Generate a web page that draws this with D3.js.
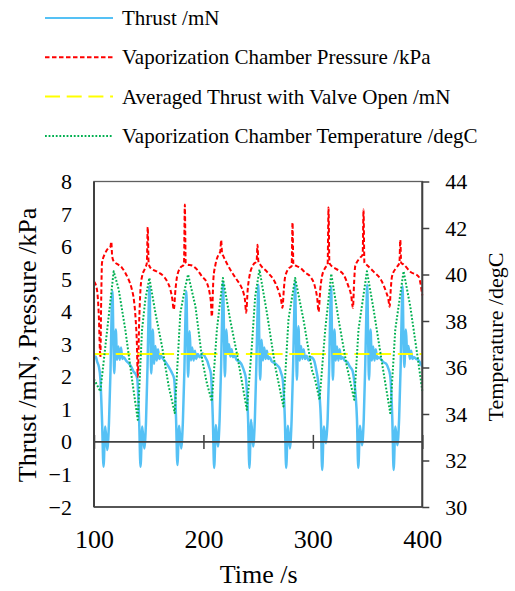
<!DOCTYPE html>
<html lang="en">
<head>
  <meta charset="UTF-8">
  <title>Thrust, Pressure and Temperature vs Time</title>
  <script src="https://d3js.org/d3.v7.min.js"></script>
  <style>
    body { margin: 0; background: #fff; }
    svg text { font-family: 'Liberation Serif'; }
    .axis .domain { display: none; }
    .axis line { stroke: #404040; stroke-width: 1.5; }
  </style>
</head>
<body>

<script>

// time /s, thrust /mN
const thrust = [
  [100,2.55],[101.5,2.62],[103,2.45],[104.5,2.3],[105.8,1.95],[107.4,0.6],
  [108.7,-0.76],[110.3,0.47],[112.1,-0.25],[113.7,0.6],[115.1,2.2],[116.1,3.96],[116.9,4.63],[117.7,3.2],[118.5,2.11],
  [119.9,3.45],[121.1,2.52],[122.3,2.93],[123.5,2.52],[124.7,2.9],[125.9,2.55],[127.3,2.6],[129.2,2.5],[131.7,2.42],
  [134.2,2.3],[136.2,2.16],[137.7,2.1],[139.5,1.95],[141.3,0.6],
  [142.5,-0.76],[144.1,0.47],[145.9,-0.2],[147.5,0.6],[148.9,2.3],[149.9,4.0],[150.7,4.78],[151.5,3.3],[152.3,2.1],
  [153.7,3.45],[154.9,2.4],[156.1,2.95],[157.3,2.5],[158.5,2.85],[159.7,2.55],[161.1,2.65],[163,2.55],[165.5,2.45],
  [168,2.32],[170,2.2],[171.5,2.1],[173.2,1.95],[175,0.7],
  [176.2,-0.71],[177.8,0.5],[179.6,-0.2],[181.2,0.6],[182.6,2.2],[183.6,3.9],[184.4,4.63],[185.2,3.2],[186,2.0],
  [187.4,3.4],[188.6,2.5],[189.8,2.9],[191,2.5],[192.2,2.8],[193.4,2.55],[194.8,2.7],[196.7,2.6],[199.2,2.72],
  [201.7,2.6],[203.7,2.47],[205.2,2.3],[206.8,2.1],[208.6,0.7],
  [209.8,-0.8],[211.4,0.52],[213.2,-0.14],[214.8,0.7],[216.2,2.4],[217.2,4.1],[218,4.9],[218.8,3.3],[219.6,2.01],
  [221,3.45],[222.2,2.72],[223.4,3.0],[224.6,2.62],[225.8,2.85],[227,2.6],[228.4,2.65],[230.3,2.52],[232.8,2.47],
  [235.3,2.35],[237.3,2.16],[238.8,1.95],[240.8,0.7],
  [242,-0.8],[243.6,0.68],[245.4,-0.14],[247,0.7],[248.4,2.4],[249.4,3.9],[250.2,4.83],[251,3.2],[251.8,1.91],
  [253.2,3.14],[254.4,2.5],[255.6,2.9],[256.8,2.55],[258,2.8],[259.2,2.55],[260.6,2.6],[262.5,2.47],[265,2.42],
  [267.5,2.35],[269.5,2.27],[271,2.11],[272.3,1.95],[274.4,0.7],
  [275.6,-0.8],[277.2,0.5],[279,-0.2],[280.6,0.7],[282,2.4],[283,4.0],[283.8,4.9],[284.6,3.2],[285.4,1.91],
  [286.8,3.55],[288,2.5],[289.2,2.95],[290.4,2.55],[291.6,2.85],[292.8,2.55],[294.2,2.65],[296.1,2.5],[298.6,2.6],
  [301.1,2.5],[303.1,2.21],[304.6,1.91],[307.3,0.7],
  [308.5,-0.86],[310.1,0.47],[311.9,-0.04],[313.5,0.7],[314.9,2.3],[315.9,4.0],[316.7,4.78],[317.5,3.2],[318.3,1.91],
  [319.7,3.45],[320.9,2.5],[322.1,2.93],[323.3,2.5],[324.5,2.85],[325.7,2.55],[327.1,2.6],[329,2.5],[331.5,2.45],
  [334,2.3],[336,2.21],[337.5,1.95],[340.3,0.7],
  [341.5,-0.8],[343.1,0.5],[344.9,-0.1],[346.5,0.7],[347.9,2.4],[348.9,4.0],[349.7,4.83],[350.5,3.2],[351.3,1.91],
  [352.7,3.45],[353.9,2.5],[355.1,2.93],[356.3,2.5],[357.5,2.85],[358.7,2.55],[360.1,2.6],[362,2.55],[364.5,2.45],
  [367,2.4],[369,2.25],[370.6,2.05],[372.6,0.7],
  [373.8,-0.86],[375.4,0.47],[377.2,-0.1],[378.8,0.7],[380.2,2.3],[381.2,4.0],[382,4.78],[382.8,3.2],[383.6,2.3],
  [385,3.45],[386.2,2.72],[387.4,2.95],[388.6,2.55],[389.8,2.8],[391,2.55],[392.4,2.6],[394.3,2.55],[396.8,2.5],
  [398.5,2.4],[400,2.3]
];

// time /s, vaporization chamber pressure /kPa
const pressure = [
  [100,4.93],[102.7,4.68],[104.3,3.96],[105.8,2.6],[106.6,4.4],[107.3,5.5],[110.3,5.8],[113,5.95],[115,6.0],
  [115.8,6.15],[116.6,5.7],[118,5.55],[122,5.45],[125.6,5.35],[128.8,5.18],[131.7,4.98],[134.5,4.7],[136.5,4.35],
  [138,3.8],[139.2,3.0],[140,2.0],[141.2,3.6],[142.5,4.7],[143.9,5.08],[146.9,5.35],[148.3,5.5],[149.1,6.6],
  [149.9,5.5],[151.5,5.35],[157.6,5.23],[163.8,5.08],[167,4.92],[169.8,4.68],[171.5,4.4],[172.9,4.06],[174.5,4.7],
  [175.9,5.08],[178.9,5.35],[182.2,5.45],[183,7.29],[183.8,5.5],[185.1,5.45],[189.6,5.42],[194,5.3],[198.8,5.08],
  [203.1,4.89],[205.5,4.6],[206.8,4.3],[207.7,3.85],[209.1,5.0],[211,5.45],[213.7,5.75],[215.4,5.85],[216.2,6.2],
  [217,5.8],[218.3,5.7],[224.4,5.3],[230.5,4.98],[234,4.8],[236.6,4.58],[238,4.35],[239,3.97],[240.5,4.7],
  [242,5.08],[245.7,5.45],[248.6,5.55],[249.4,6.06],[250.2,5.55],[251.8,5.45],[258,5.23],[265.6,4.89],[269,4.6],
  [271,4.35],[272.2,4.12],[273.5,4.7],[274.7,5.08],[278.6,5.35],[280.6,5.4],[281.4,6.74],[282.2,5.45],[283.8,5.42],
  [288.4,5.35],[293,5.2],[297.6,5.08],[302.1,4.74],[304,4.4],[305.2,4.0],[306.8,4.7],[308.3,5.08],[311.3,5.35],
  [313.5,5.45],[314.3,7.2],[315.1,5.5],[315.9,5.45],[322,5.3],[328,5.14],[332.6,4.77],[335,4.5],[336.6,4.12],
  [337.7,4.9],[338.7,5.4],[343.3,5.66],[345.5,5.75],[346.3,7.14],[347.1,5.5],[348.8,5.45],[355.5,5.23],[363.2,4.92],
  [367,4.6],[369,4.38],[370.1,4.15],[371.2,4.7],[372.3,5.08],[376.2,5.35],[379.1,5.5],[379.9,6.2],[380.7,5.5],
  [382.9,5.45],[389,5.23],[396.6,5.08],[400,4.5]
];

// averaged thrust with valve open /mN
const avgThrust = [[100,2.7],[400,2.7]];

// time /s, vaporization chamber temperature /degC
const temperature = [
  [100,35.5],[105.8,34.97],[118,40.14],[122.6,39.35],[128.6,37.63],[134.8,35.47],[140,33.75],[143.9,37.63],
  [146.9,38.92],[150.6,39.85],[156.1,38.35],[162.2,36.9],[168.3,35.18],[173.8,34.04],[178.9,38.35],[183.5,39.49],
  [186,40.0],[192.7,38.63],[199,36.3],[203.1,35.33],[207.7,34.54],[212.3,37.63],[217.8,39.85],[224.4,38.06],
  [230.5,36.62],[239.7,34.18],[244.2,36.9],[247.3,39.06],[251.2,40.21],[258,38.35],[265.6,36.04],[273.1,34.32],
  [277.7,38.06],[283.8,39.85],[291.4,38.06],[299.1,35.9],[302.1,35.47],[306.1,34.61],[311.3,37.63],[316.8,40.03],
  [323.5,38.06],[331.1,36.04],[337.8,34.61],[341.7,37.63],[349.4,40.14],[355.5,38.49],[363.2,36.19],[370.7,34.04],
  [375.3,37.63],[382.9,40.14],[389,38.63],[395.2,36.62],[400,35.0]
];

const xTicks = [100, 200, 300, 400];
const yTicks = [-2, -1, 0, 1, 2, 3, 4, 5, 6, 7, 8];
const y2Ticks = [30, 32, 34, 36, 38, 40, 42, 44];

const legendLabels = [
  "Thrust /mN",
  "Vaporization Chamber Pressure /kPa",
  "Averaged Thrust with Valve Open /mN",
  "Vaporization Chamber Temperature /degC"
];

const FONT = "Liberation Serif";
const W = 515, H = 591;
const plot = {left: 94, right: 422.3, top: 181.5, bottom: 507};

const svg = d3.select("body").append("svg")
  .attr("width", W)
  .attr("height", H)
  .attr("font-family", FONT);

const x = d3.scaleLinear().domain([100, 400]).range([plot.left, plot.right]);
const y = d3.scaleLinear().domain([-2, 8]).range([plot.bottom, plot.top]);
const y2 = d3.scaleLinear().domain([30, 44]).range([plot.bottom, plot.top]);

// series styles
const styles = [
  {color: "#55c1f5", dash: null, width: 2.5},
  {color: "#ff0000", dash: "4.5,2.5", width: 2},
  {color: "#ffff00", dash: "15,6.7", width: 2},
  {color: "#00b050", dash: "1.8,1.8", width: 2}
];

// plot border
svg.append("rect")
  .attr("x", plot.left).attr("y", plot.top)
  .attr("width", plot.right - plot.left)
  .attr("height", plot.bottom - plot.top)
  .attr("fill", "none")
  .attr("stroke", "#5f5f5f")
  .attr("stroke-width", 1.3);

// lines
const series = [
  {data: thrust, gen: d3.line().x(d => x(d[0])).y(d => y(d[1])).curve(d3.curveMonotoneX)},
  {data: pressure, gen: d3.line().x(d => x(d[0])).y(d => y(d[1])).curve(d3.curveMonotoneX)},
  {data: avgThrust, gen: d3.line().x(d => x(d[0])).y(d => y(d[1]))},
  {data: temperature, gen: d3.line().x(d => x(d[0])).y(d => y2(d[1]))}
];

series.forEach((s, i) => {
  svg.append("path")
    .datum(s.data)
    .attr("fill", "none")
    .attr("stroke", styles[i].color)
    .attr("stroke-width", styles[i].width)
    .attr("stroke-dasharray", styles[i].dash)
    .attr("stroke-linejoin", "round")
    .attr("d", s.gen);
});

// horizontal axis crossing at zero, cross tick marks
svg.append("g")
  .attr("class", "axis")
  .attr("transform", `translate(0,${y(0)})`)
  .call(d3.axisBottom(x).tickValues(xTicks).tickSize(7).tickFormat(""));
svg.append("g")
  .attr("class", "axis")
  .attr("transform", `translate(0,${y(0)})`)
  .call(d3.axisTop(x).tickValues(xTicks).tickSize(7).tickFormat(""));
svg.append("line")
  .attr("x1", plot.left).attr("x2", plot.right)
  .attr("y1", y(0)).attr("y2", y(0))
  .attr("stroke", "#404040").attr("stroke-width", 1.6);

// font and size of the tick labels
function styleTicks(g, size) {
  g.attr("font-family", FONT);
  g.selectAll("text")
    .style("font-size", size + "px")
    .attr("fill", "#000");
}

// x labels at the bottom
svg.append("g")
  .attr("class", "axis")
  .attr("transform", `translate(0,${plot.bottom})`)
  .call(d3.axisBottom(x).tickValues(xTicks).tickSize(0).tickPadding(22.5))
  .call(g => styleTicks(g, 26));

// left axis
svg.append("g")
  .attr("class", "axis")
  .attr("transform", `translate(${plot.left},0)`)
  .call(d3.axisLeft(y).tickValues(yTicks).tickSize(0).tickPadding(22))
  .call(g => styleTicks(g, 22));

// right axis
svg.append("g")
  .attr("class", "axis")
  .attr("transform", `translate(${plot.right},0)`)
  .call(d3.axisRight(y2).tickValues(y2Ticks).tickSize(7).tickSizeOuter(0).tickPadding(16))
  .call(g => styleTicks(g, 22));

// axis lines
svg.append("line")
  .attr("x1", plot.left).attr("x2", plot.left)
  .attr("y1", plot.top).attr("y2", plot.bottom)
  .attr("stroke", "#404040").attr("stroke-width", 2);
svg.append("line")
  .attr("x1", plot.right).attr("x2", plot.right)
  .attr("y1", plot.top).attr("y2", plot.bottom)
  .attr("stroke", "#404040").attr("stroke-width", 2);
svg.append("line")
  .attr("x1", plot.left).attr("x2", plot.right)
  .attr("y1", plot.bottom).attr("y2", plot.bottom)
  .attr("stroke", "#404040").attr("stroke-width", 1.6);

// axis titles
svg.append("text")
  .attr("x", (plot.left + plot.right) / 2 + 0.5)
  .attr("y", 583)
  .attr("text-anchor", "middle")
  .style("font-size", "26px")
  .text("Time /s");

svg.append("text")
  .attr("transform", "translate(36,345) rotate(-90)")
  .attr("text-anchor", "middle")
  .style("font-size", "26px")
  .text("Thrust /mN, Pressure /kPa");

svg.append("text")
  .attr("transform", "translate(503,337) rotate(-90)")
  .attr("text-anchor", "middle")
  .style("font-size", "22px")
  .text("Temperature /degC");

// legend
legendLabels.forEach((label, i) => {
  const ly = 18 + i * 39.3;
  svg.append("line")
    .attr("x1", 45).attr("x2", 113)
    .attr("y1", ly).attr("y2", ly)
    .attr("stroke", styles[i].color)
    .attr("stroke-width", 2)
    .attr("stroke-dasharray", styles[i].dash);
  svg.append("text")
    .attr("x", 122)
    .attr("y", ly + 7)
    .style("font-size", "21px")
    .text(label);
});

</script>

</body>
</html>
